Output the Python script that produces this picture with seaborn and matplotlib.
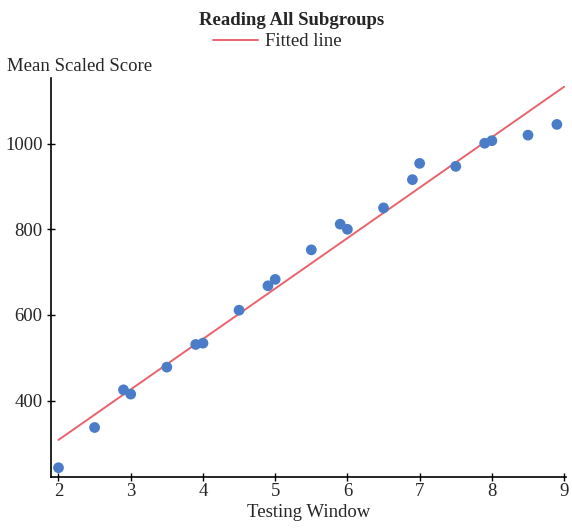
import matplotlib
matplotlib.use("Agg")
import matplotlib.pyplot as plt
import seaborn as sns
import pandas as pd

testing_window = [2.0, 2.5, 2.9, 3.0, 3.5, 3.9, 4.0, 4.5, 4.9, 5.0, 5.5, 5.9, 6.0,
                  6.5, 6.9, 7.0, 7.5, 7.9, 8.0, 8.5, 8.9]
mean_score = [243, 337, 425, 415, 478, 531, 534, 611, 668, 683, 752, 812, 800,
              850, 916, 954, 947, 1001, 1007, 1020, 1045]
fit_x = [2.0, 9.0]
fit_y = [308, 1133]
y_ticks = [400, 600, 800, 1000]
x_ticks = [2, 3, 4, 5, 6, 7, 8, 9]

sns.set_theme(style="ticks")
plt.rcParams['font.family'] = ['Liberation Serif', 'DejaVu Serif']
FS = 13.5

df = pd.DataFrame({"x": testing_window, "y": mean_score})
fit = pd.DataFrame({"x": fit_x, "y": fit_y})

fig = plt.figure(figsize=(5.72, 5.29), dpi=100)
ax = fig.add_axes([0.089, 0.098, 0.901, 0.755])

sns.scatterplot(data=df, x="x", y="y", ax=ax, color="#4a7cc8", s=60,
                edgecolor="none", zorder=3)
sns.lineplot(data=fit, x="x", y="y", ax=ax, color="#e8636c", linewidth=1.4,
             label="Fitted line", zorder=2)

ax.set_xlim(1.895, 9.03)
ax.set_ylim(221, 1154)
ax.set_xticks(x_ticks)
ax.set_yticks(y_ticks)
ax.tick_params(axis="both", labelsize=FS, length=6, width=1, color="black",
               direction="inout", pad=1)
ax.tick_params(axis="y", pad=3)
for s in ["top", "right"]:
    ax.spines[s].set_visible(False)
for s in ["left", "bottom"]:
    ax.spines[s].set_color("black")
    ax.spines[s].set_linewidth(1.2)

ax.set_xlabel("Testing Window", fontsize=FS, labelpad=3)
ax.set_ylabel("")
fig.text(0.012, 0.874, "Mean Scaled Score", fontsize=FS, ha="left", va="center")
fig.text(0.51, 0.961, "Reading All Subgroups", fontsize=FS, fontweight="bold",
         ha="center", va="center")
leg = ax.legend(loc="center", bbox_to_anchor=(0.485, 0.921), bbox_transform=fig.transFigure,
                frameon=False, fontsize=FS, handlelength=2.4, handletextpad=0.4,
                borderpad=0, borderaxespad=0)

fig.savefig("out.png", dpi=100)
